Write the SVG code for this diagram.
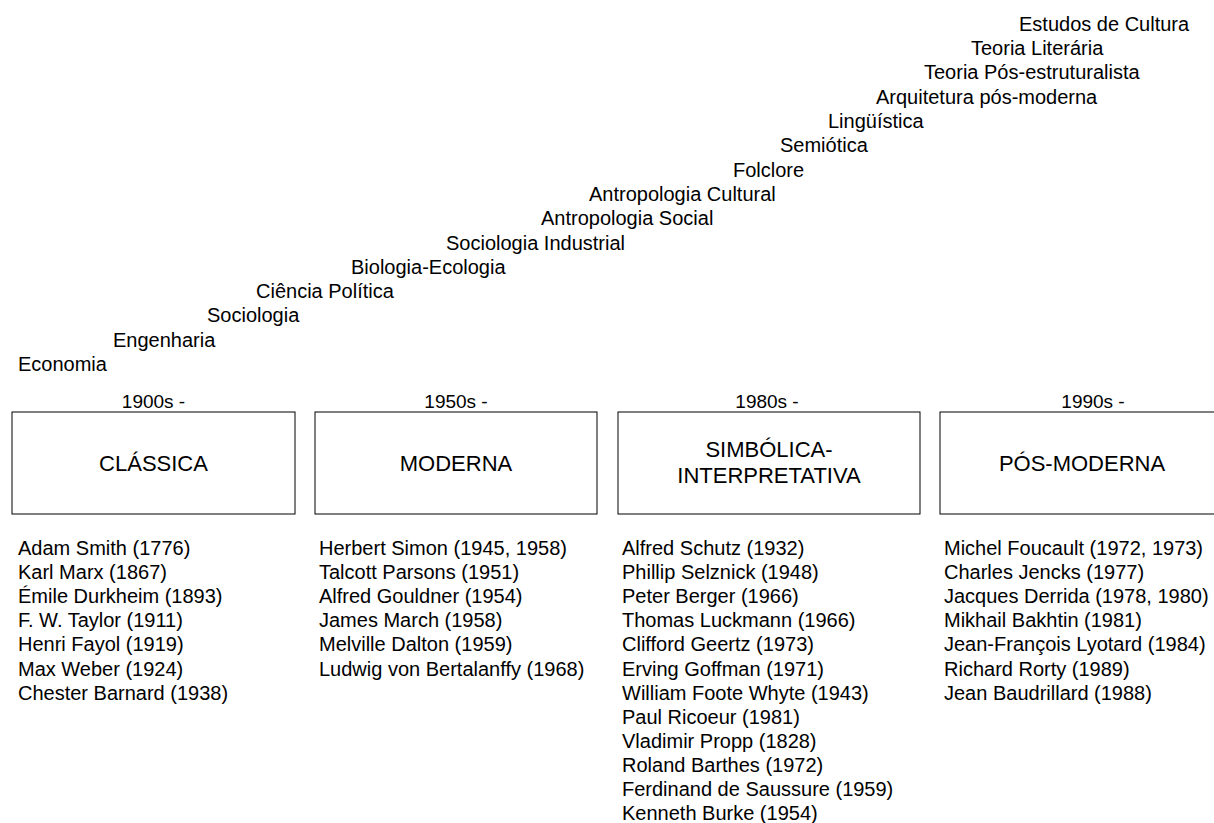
<svg xmlns="http://www.w3.org/2000/svg" width="1214" height="823" viewBox="0 0 1214 823">
<style>
text{font-family:"Liberation Sans",Arial,sans-serif;fill:#000}
.f{font-size:20px}
.era{font-size:19px;text-anchor:middle}
.bl{font-size:22px;text-anchor:middle}
.box{fill:#fff;stroke:#000;stroke-width:1}
</style>
<rect width="1214" height="823" fill="#fff"/>
<g id="fields" class="f">
<text x="1019" y="31">Estudos de Cultura</text>
<text x="971" y="55">Teoria Literária</text>
<text x="924" y="79">Teoria Pós-estruturalista</text>
<text x="876" y="104">Arquitetura pós-moderna</text>
<text x="828" y="128">Lingüística</text>
<text x="780" y="152">Semiótica</text>
<text x="733" y="177">Folclore</text>
<text x="589" y="201">Antropologia Cultural</text>
<text x="541" y="225">Antropologia Social</text>
<text x="446" y="250">Sociologia Industrial</text>
<text x="351" y="274">Biologia-Ecologia</text>
<text x="256" y="298">Ciência Política</text>
<text x="207" y="322">Sociologia</text>
<text x="113" y="347">Engenharia</text>
<text x="18" y="371">Economia</text>
</g>
<g id="classica">
<text class="era" x="153.5" y="408">1900s -</text>
<rect class="box" x="12" y="412" width="283" height="102"/>
<text class="bl" x="153.5" y="471">CLÁSSICA</text>
<text class="f" x="18" y="555">Adam Smith (1776)<tspan x="18" dy="24.1">Karl Marx (1867)</tspan><tspan x="18" dy="24.1">Émile Durkheim (1893)</tspan><tspan x="18" dy="24.1">F. W. Taylor (1911)</tspan><tspan x="18" dy="24.1">Henri Fayol (1919)</tspan><tspan x="18" dy="24.1">Max Weber (1924)</tspan><tspan x="18" dy="24.1">Chester Barnard (1938)</tspan></text>
</g>
<g id="moderna">
<text class="era" x="456" y="408">1950s -</text>
<rect class="box" x="315" y="412" width="282" height="102"/>
<text class="bl" x="456" y="471">MODERNA</text>
<text class="f" x="319" y="555">Herbert Simon (1945, 1958)<tspan x="319" dy="24.1">Talcott Parsons (1951)</tspan><tspan x="319" dy="24.1">Alfred Gouldner (1954)</tspan><tspan x="319" dy="24.1">James March (1958)</tspan><tspan x="319" dy="24.1">Melville Dalton (1959)</tspan><tspan x="319" dy="24.1">Ludwig von Bertalanffy (1968)</tspan></text>
</g>
<g id="simbolica">
<text class="era" x="767" y="408">1980s -</text>
<rect class="box" x="618" y="412" width="302" height="102"/>
<text class="bl" x="769" y="457">SIMBÓLICA-</text>
<text class="bl" x="769" y="483">INTERPRETATIVA</text>
<text class="f" x="622" y="555">Alfred Schutz (1932)<tspan x="622" dy="24.1">Phillip Selznick (1948)</tspan><tspan x="622" dy="24.1">Peter Berger (1966)</tspan><tspan x="622" dy="24.1">Thomas Luckmann (1966)</tspan><tspan x="622" dy="24.1">Clifford Geertz (1973)</tspan><tspan x="622" dy="24.1">Erving Goffman (1971)</tspan><tspan x="622" dy="24.1">William Foote Whyte (1943)</tspan><tspan x="622" dy="24.1">Paul Ricoeur (1981)</tspan><tspan x="622" dy="24.1">Vladimir Propp (1828)</tspan><tspan x="622" dy="24.1">Roland Barthes (1972)</tspan><tspan x="622" dy="24.1">Ferdinand de Saussure (1959)</tspan><tspan x="622" dy="24.1">Kenneth Burke (1954)</tspan></text>
</g>
<g id="posmoderna">
<text class="era" x="1093" y="408">1990s -</text>
<rect class="box" x="940" y="412" width="282" height="102"/>
<text class="bl" x="1082" y="471">PÓS-MODERNA</text>
<text class="f" x="944" y="555">Michel Foucault (1972, 1973)<tspan x="944" dy="24.1">Charles Jencks (1977)</tspan><tspan x="944" dy="24.1">Jacques Derrida (1978, 1980)</tspan><tspan x="944" dy="24.1">Mikhail Bakhtin (1981)</tspan><tspan x="944" dy="24.1">Jean-François Lyotard (1984)</tspan><tspan x="944" dy="24.1">Richard Rorty (1989)</tspan><tspan x="944" dy="24.1">Jean Baudrillard (1988)</tspan></text>
</g>
<g id="connectors"/>
</svg>
